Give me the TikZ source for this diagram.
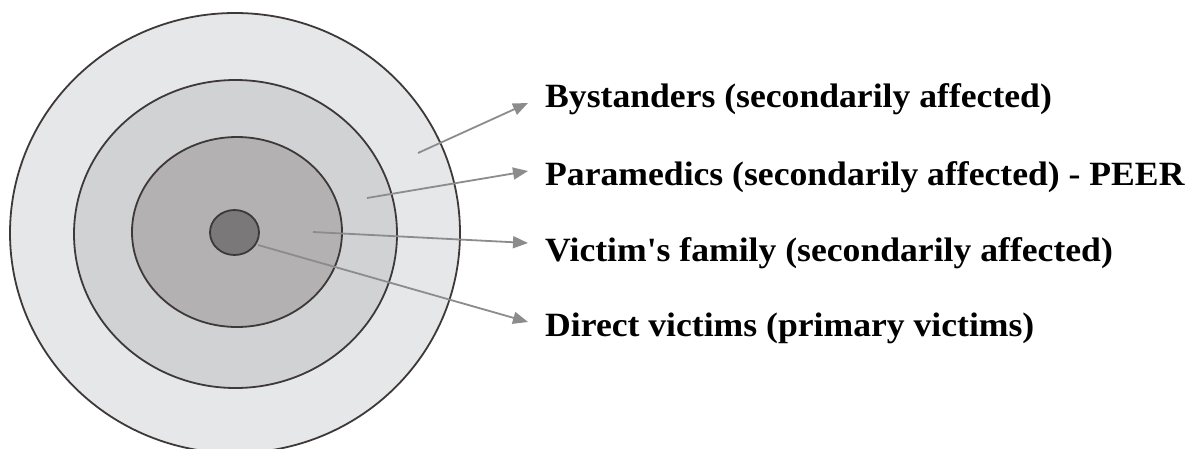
\documentclass[tikz,border=0pt]{standalone}
\usepackage{fontspec}
\setmainfont{Liberation Serif}[Ligatures=TeXOff]
\usetikzlibrary{arrows.meta}
\definecolor{ringA}{HTML}{E6E7E9}
\definecolor{ringB}{HTML}{D1D2D4}
\definecolor{ringC}{HTML}{B3B1B2}
\definecolor{ringD}{HTML}{7A7878}
\definecolor{edgec}{HTML}{3F3838}
\definecolor{arrc}{HTML}{8C8C8C}
\tikzset{
  ring/.style={draw=edgec, line width=1.8pt},
  pointer/.style={draw=arrc, line width=1.8pt, -{Triangle[length=15pt,width=12pt]}},
  lbl/.style={anchor=base west, inner sep=0pt, text=black,
    font=\fontsize{34}{40}\selectfont\bfseries, xscale=1.048}
}
\begin{document}
\begin{tikzpicture}[x=1pt,y=-1pt]
\useasboundingbox (0,0) rectangle (1191,448);
\fill[white] (0,0) rectangle (1191,448);
\draw[ring, fill=ringA] (235,233) ellipse [x radius=225, y radius=220];
\draw[ring, fill=ringB] (235.5,234) ellipse [x radius=161.5, y radius=154];
\draw[ring, fill=ringC] (237,232) ellipse [x radius=105, y radius=95];
\draw[ring, fill=ringD] (234.5,232.5) ellipse [x radius=24.5, y radius=22.5];
\node[lbl] (l1) at (545,107) {Bystanders (secondarily affected)};
\node[lbl] (l2) at (545,185) {Paramedics (secondarily affected) - PEER};
\node[lbl] (l3) at (545,261) {Victim's family (secondarily affected)};
\node[lbl] (l4) at (545,336) {Direct victims (primary victims)};
\coordinate (s1) at (418,153);
\coordinate (s2) at (367,198);
\coordinate (s3) at (313,232);
\coordinate (s4) at (258,245);
\coordinate (t1) at (528,103);
\coordinate (t2) at (528,171);
\coordinate (t3) at (528,243);
\coordinate (t4) at (528,322);
\draw[pointer] (s1) -- (t1);
\draw[pointer] (s2) -- (t2);
\draw[pointer] (s3) -- (t3);
\draw[pointer] (s4) -- (t4);
\end{tikzpicture}
\end{document}
